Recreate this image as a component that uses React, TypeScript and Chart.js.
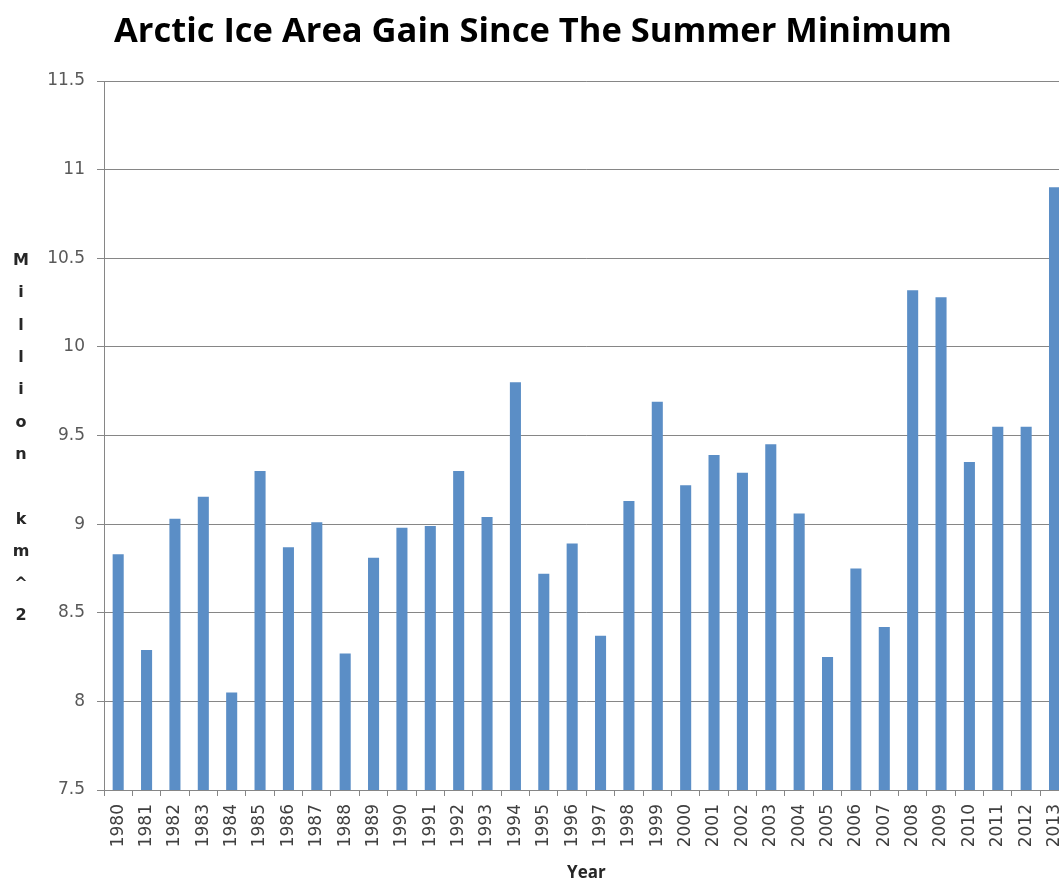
import React, { useEffect, useRef } from 'react';
import { Chart, registerables } from 'chart.js';

Chart.register(...registerables);

const years = [
  '1980', '1981', '1982', '1983', '1984', '1985', '1986', '1987', '1988', '1989',
  '1990', '1991', '1992', '1993', '1994', '1995', '1996', '1997', '1998', '1999',
  '2000', '2001', '2002', '2003', '2004', '2005', '2006', '2007', '2008', '2009',
  '2010', '2011', '2012', '2013',
];

const iceAreaGain = [
  8.83, 8.29, 9.03, 9.155, 8.05, 9.30, 8.87, 9.01, 8.27, 8.81,
  8.98, 8.99, 9.30, 9.04, 9.80, 8.72, 8.89, 8.37, 9.13, 9.69,
  9.22, 9.39, 9.29, 9.45, 9.06, 8.25, 8.75, 8.42, 10.32, 10.28,
  9.35, 9.55, 9.55, 10.90,
];

const yMin = 7.5;
const yMax = 11.5;
const yStep = 0.5;

const chartTitle = 'Arctic Ice Area Gain Since The Summer Minimum';
const yAxisTitle = 'Million km^2';
const xAxisTitle = 'Year';

const textPlugin = {
  id: 'textPlugin',
  afterDraw(chart: any) {
    const ctx = chart.ctx;
    ctx.save();
    // main title
    ctx.fillStyle = '#000000';
    ctx.font = 'bold 34.5px "Open Sans"';
    ctx.textAlign = 'center';
    ctx.textBaseline = 'alphabetic';
    ctx.fillText(chartTitle, 533, 42);

    // stacked y-axis title letters
    ctx.fillStyle = '#262626';
    ctx.font = 'bold 16px "DejaVu Sans"';
    ctx.textAlign = 'center';
    ctx.textBaseline = 'middle';
    const chars = yAxisTitle.split('');
    chars.forEach((c, i) => {
      if (c !== ' ') ctx.fillText(c, 21, 261 + i * 32.3);
    });

    // x-axis title
    const area = chart.chartArea;
    ctx.font = 'bold 17px "Open Sans"';
    ctx.fillStyle = '#262626';
    ctx.fillText(xAxisTitle, (area.left + area.right) / 2, 873);
    ctx.restore();
  },
};

export default function App() {
  const canvasRef = useRef<HTMLCanvasElement | null>(null);

  useEffect(() => {
    if (!canvasRef.current) return;
    const chart = new Chart(canvasRef.current, {
      type: 'bar',
      data: {
        labels: years,
        datasets: [
          {
            data: iceAreaGain,
            backgroundColor: '#5B8EC6',
            borderWidth: 0,
            barPercentage: 0.39,
            categoryPercentage: 1.0,
          },
        ],
      },
      options: {
        responsive: false,
        animation: false,
        devicePixelRatio: 1,
        layout: { padding: { top: 81, left: 0, right: 5, bottom: 0 } },
        plugins: {
          legend: { display: false },
          title: { display: false },
          tooltip: { enabled: false },
        },
        scales: {
          x: {
            offset: true,
            grid: {
              offset: true,
              drawOnChartArea: false,
              drawTicks: true,
              tickLength: 6,
              color: '#868686',
            },
            border: { color: '#868686', width: 1 },
            ticks: {
              autoSkip: false,
              minRotation: 90,
              maxRotation: 90,
              padding: 8,
              color: '#404040',
              font: { family: 'DejaVu Sans', size: 17 },
            },
            afterFit(scale: any) {
              scale.height = 91;
            },
          },
          y: {
            min: yMin,
            max: yMax,
            grid: {
              color: '#868686',
              drawTicks: true,
              tickLength: 7,
            },
            border: { color: '#868686', width: 1 },
            ticks: {
              stepSize: yStep,
              padding: 12,
              color: '#595959',
              font: { family: 'DejaVu Sans', size: 17 },
              callback: (value: any) => `${Number(value)}`,
            },
            afterFit(scale: any) {
              scale.width = 104;
            },
          },
        },
      },
      plugins: [textPlugin],
    });
    return () => chart.destroy();
  }, []);

  return (
    <div
      style={{
        position: 'fixed',
        left: 0,
        top: 0,
        width: 1059,
        height: 881,
        overflow: 'hidden',
        background: '#ffffff',
      }}
    >
      <canvas ref={canvasRef} width={1083} height={881} style={{ display: 'block' }} />
    </div>
  );
}
